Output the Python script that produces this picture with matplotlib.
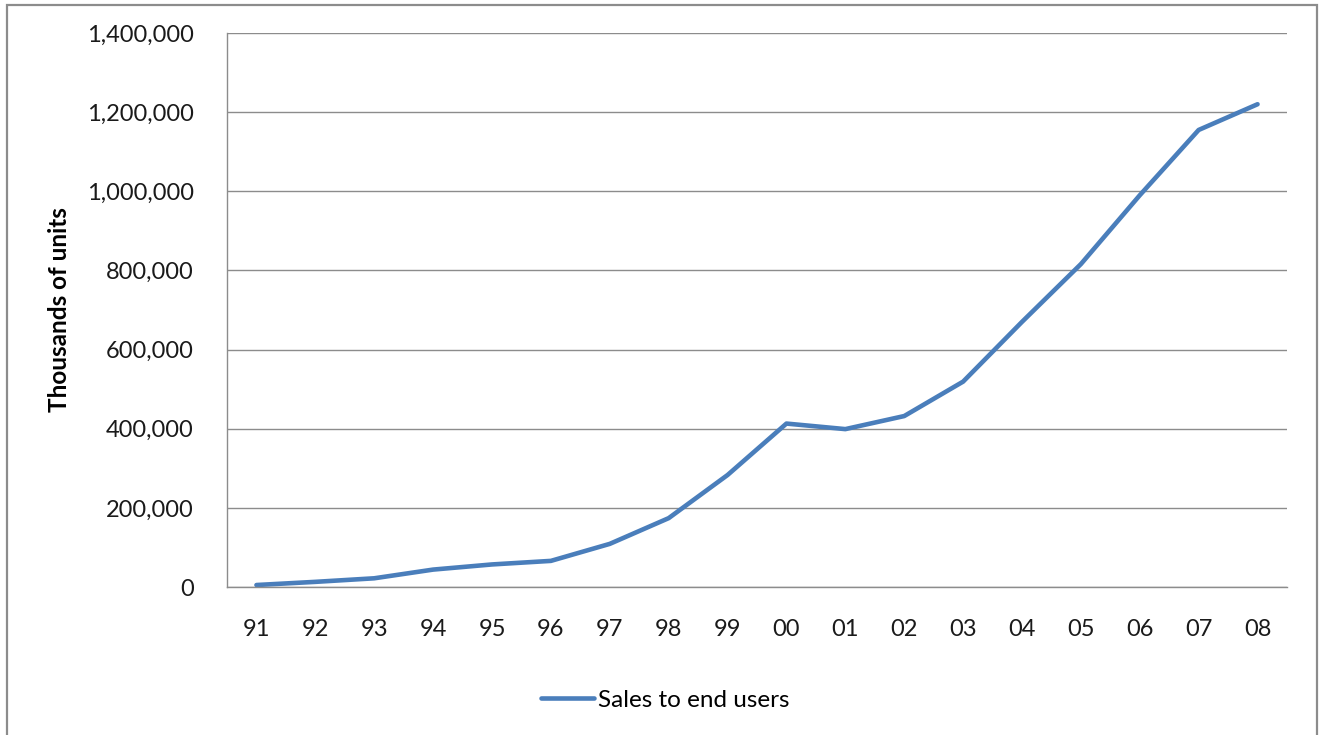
import matplotlib.pyplot as plt
from matplotlib.patches import Rectangle
from matplotlib.ticker import FuncFormatter, MultipleLocator

years = ["91", "92", "93", "94", "95", "96", "97", "98", "99",
         "00", "01", "02", "03", "04", "05", "06", "07", "08"]
sales = [5000, 13000, 22000, 44000, 57000, 66000, 109000, 174000, 283000,
         413000, 399000, 432000, 519000, 670000, 816000, 990000, 1155000, 1220000]
series_name = "Sales to end users"
y_label = "Thousands of units"

W, H = 1323, 735
fig = plt.figure(figsize=(W / 100, H / 100), dpi=100)
plt.rcParams['font.family'] = ['Lato', 'DejaVu Sans']

# outer chart frame
fig.patches.append(Rectangle((7 / W, -0.05), (1317 - 7) / W, (H - 5) / H + 0.05,
                             transform=fig.transFigure, fill=False,
                             edgecolor='#8c8c8c', linewidth=1.6))

left, right, top, bottom = 227, 1287, 33, 587
ax = fig.add_axes([left / W, 1 - bottom / H, (right - left) / W, (bottom - top) / H])

x = range(len(years))
line, = ax.plot(x, sales, color='#4a7ebb', linewidth=3.3, solid_capstyle='round',
                label=series_name)

ax.set_xlim(-0.5, len(years) - 0.5)
ax.set_ylim(0, 1400000)
ax.yaxis.set_major_locator(MultipleLocator(200000))
ax.yaxis.set_major_formatter(FuncFormatter(lambda v, p: f"{int(v):,}"))
ax.set_xticks(list(x))
ax.set_xticklabels(years)

ax.grid(axis='y', color='#8c8c8c', linewidth=1.0)
ax.set_axisbelow(True)
for s in ['top', 'right']:
    ax.spines[s].set_visible(False)
for s in ['left', 'bottom']:
    ax.spines[s].set_color('#8c8c8c')
    ax.spines[s].set_linewidth(1.0)

ax.tick_params(axis='both', length=0, labelsize=17, colors='#1a1a1a')
ax.tick_params(axis='y', pad=24)
ax.tick_params(axis='x', pad=23)

ax.set_ylabel(y_label, fontsize=17.5, fontweight='bold', labelpad=11, color='#000000')

fig.legend(handles=[line], loc='center', bbox_to_anchor=(665 / W, 1 - 700 / H),
           frameon=False, fontsize=17.5, handlelength=2.2, handletextpad=0.15)

fig.savefig("out.png", dpi=100)
